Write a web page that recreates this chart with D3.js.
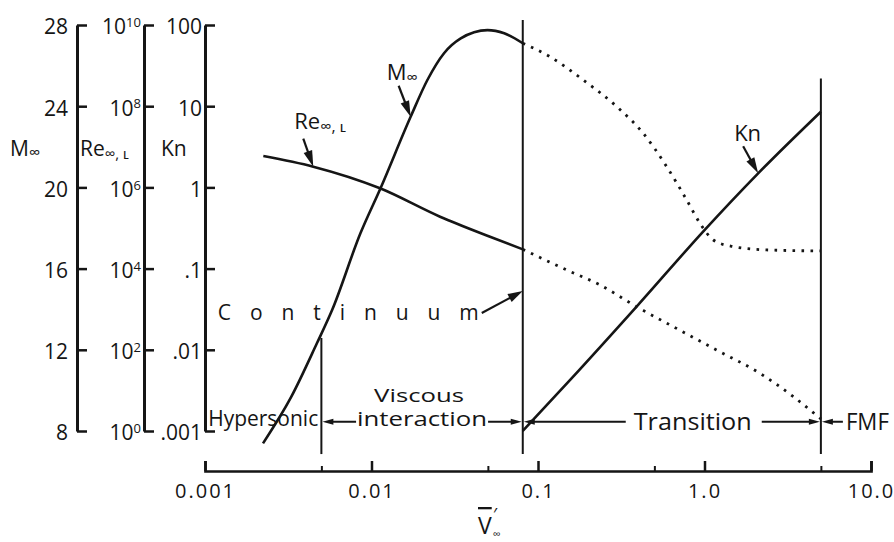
<!DOCTYPE html>
<html><head><meta charset="utf-8">
<script src="https://cdn.jsdelivr.net/npm/d3@7"></script>
<style>
body{margin:0;background:#fff;}
svg{display:block;font-family:"Open Sans",Lato,sans-serif;}
</style></head><body>
<svg id="chart" width="894" height="542"></svg>
<script>
// ---------- axis tick data ----------
const xTickValues = [0.001, 0.01, 0.1, 1, 10];
const xTickLabels = ["0.001", "0.01", "0.1", "1.0", "10.0"];
const xMinorTicks = [0.005, 0.05, 0.5, 5];
const mTicks = [8, 12, 16, 20, 24, 28];
const reTicks = [1, 1e2, 1e4, 1e6, 1e8, 1e10];
const reExponents = ["0", "2", "4", "6", "8", "10"];
const knTicks = [0.001, 0.01, 0.1, 1, 10, 100];
const knTickLabels = [".001", ".01", ".1", "1", "10", "100"];

// ---------- series ----------
// M_inf, continuum part (solid)
const machV = [0.00223, 0.0033, 0.0047, 0.0058, 0.00858, 0.01133, 0.01718, 0.02166, 0.02726, 0.03436, 0.04977, 0.06266, 0.081];
const machM = [7.39, 9.69, 12.32, 13.96, 17.74, 19.96, 23.48, 25.29, 26.61, 27.34, 27.75, 27.59, 27.10];
// M_inf, beyond continuum (dotted)
const machDotV = [0.081, 0.118, 0.187, 0.297, 0.429, 0.593, 0.782, 0.94, 1.13, 1.49, 2.36, 5];
const machDotM = [27.10, 26.44, 25.29, 23.98, 22.66, 21.02, 19.38, 18.23, 17.41, 17.08, 16.92, 16.87];
// Re_inf,L (solid)
const reV = [0.00224, 0.00447, 0.01125, 0.0258, 0.0515, 0.081];
const reVal = [5.93e6, 3.24e6, 9.5e5, 1.9e5, 6.1e4, 2.99e4];
// Re_inf,L (dotted)
const reDotV = [0.081, 0.149, 0.236, 0.391, 0.65, 1.18, 2.15, 3.42, 5];
const reDotVal = [2.99e4, 9.2e3, 3.94e3, 1.15e3, 371, 98.9, 26.4, 7.0, 1.98];
// Knudsen number
const knV = [0.081, 0.156, 0.391, 1.0, 2.10, 5];
const knVal = [0.001, 0.00425, 0.034, 0.298, 1.49, 8.55];

// regime boundaries (V value, top of line in Kn units)
const boundV = [0.005, 0.081, 5];
const boundTopKn = [0.014, 115, 22];
const boundBottomKn = 0.00052;
const regimeKn = 0.0013;

// ---------- scales ----------
const svg = d3.select("#chart");
const ink = "#151515";
const FONT = "'Open Sans', Lato, sans-serif";
const x = d3.scaleLog().domain([0.001, 10]).range([205, 871]);
const yM = d3.scaleLinear().domain([8, 28]).range([431, 25]);
const yRe = d3.scaleLog().domain([1, 1e10]).range([431, 25]);
const yKn = d3.scaleLog().domain([0.001, 100]).range([431, 25]);

function styleAxis(g, fs) {
  g.select(".domain").attr("stroke", ink).attr("stroke-width", 3);
  g.selectAll(".tick line").attr("stroke", ink).attr("stroke-width", 2.5);
  g.selectAll(".tick text").attr("fill", ink).attr("font-size", fs).attr("font-family", FONT);
}

// ---------- left axes ----------
const gM = svg.append("g").attr("transform", "translate(77,0)")
  .call(d3.axisLeft(yM).tickValues(mTicks).tickSizeInner(-10).tickSizeOuter(0).tickPadding(9).tickFormat(d3.format("d")));
styleAxis(gM, 21);
gM.selectAll(".tick text").attr("dy", "0.42em");

const gRe = svg.append("g").attr("transform", "translate(144,0)")
  .call(d3.axisLeft(yRe).tickValues(reTicks).tickSizeInner(-10).tickSizeOuter(0).tickPadding(3).tickFormat(() => ""));
styleAxis(gRe, 21);
gRe.selectAll(".tick text").attr("dy", "0.42em").each(function(d, i) {
  const t = d3.select(this);
  t.text("10");
  t.append("tspan").attr("dy", "-0.55em").attr("font-size", "0.62em").text(reExponents[i]);
});

const gKn = svg.append("g").attr("transform", "translate(205,0)")
  .call(d3.axisLeft(yKn).tickValues(knTicks).tickSizeInner(-10).tickSizeOuter(0).tickPadding(3).tickFormat((d, i) => knTickLabels[i]));
styleAxis(gKn, 21);
gKn.selectAll(".tick text").attr("dy", "0.42em");

// left axis titles
const tM = svg.append("text").attr("x", 10).attr("y", 156).attr("font-size", 21).attr("fill", ink).text("M");
tM.append("tspan").attr("font-size", 16).attr("dy", 2).text("∞");
const tRe = svg.append("text").attr("x", 80).attr("y", 156).attr("font-size", 21).attr("fill", ink).text("Re");
tRe.append("tspan").attr("font-size", 15).attr("dy", 3).text("∞, ʟ");
svg.append("text").attr("x", 161).attr("y", 156).attr("font-size", 21).attr("fill", ink).text("Kn");

// ---------- bottom axis ----------
const gX = svg.append("g").attr("transform", "translate(0,471)")
  .call(d3.axisBottom(x).tickValues(xTickValues).tickSizeInner(-10).tickSizeOuter(-10).tickPadding(13).tickFormat((d, i) => xTickLabels[i]));
styleAxis(gX, 20);
gX.selectAll(".tick text").attr("letter-spacing", 2);
gX.select(".domain").attr("stroke-width", 2.7);
const gXm = svg.append("g").attr("transform", "translate(0,471)")
  .call(d3.axisBottom(x).tickValues(xMinorTicks).tickSizeInner(-5).tickSizeOuter(0).tickFormat(""));
gXm.select(".domain").remove();
gXm.selectAll(".tick line").attr("stroke", ink).attr("stroke-width", 2);

// x title  V-bar prime, sub infinity
svg.append("text").attr("x", 478).attr("y", 534).attr("font-size", 23).attr("fill", ink)
  .style("text-decoration", "overline").text("V");
svg.append("text").attr("x", 493).attr("y", 521).attr("font-size", 18).attr("fill", ink).text("′");
svg.append("text").attr("x", 493).attr("y", 538).attr("font-size", 11).attr("fill", ink).text("∞");

// ---------- boundaries ----------
svg.append("g").selectAll("line").data(boundV).join("line")
  .attr("x1", d => x(d)).attr("x2", d => x(d))
  .attr("y1", (d, i) => yKn(boundTopKn[i])).attr("y2", yKn(boundBottomKn))
  .attr("stroke", ink).attr("stroke-width", 2);

// ---------- curves ----------
const lineGen = (xs, ys, ysc) => d3.line().curve(d3.curveMonotoneX)
  .x((d, i) => x(xs[i])).y((d, i) => ysc(ys[i]))(xs);

function drawCurve(xs, ys, ysc, dotted) {
  svg.append("path").attr("d", lineGen(xs, ys, ysc)).attr("fill", "none")
    .attr("stroke", ink).attr("stroke-width", dotted ? 2.8 : 2.6)
    .attr("stroke-dasharray", dotted ? "2.6 6.4" : null);
}
drawCurve(machV, machM, yM, false);
drawCurve(machDotV, machDotM, yM, true);
drawCurve(reV, reVal, yRe, false);
drawCurve(reDotV, reDotVal, yRe, true);
drawCurve(knV, knVal, yKn, false);

// ---------- arrows ----------
function arrow(x1, y1, x2, y2, len, w, sw) {
  const dx = x2 - x1, dy = y2 - y1, L = Math.hypot(dx, dy), ux = dx / L, uy = dy / L;
  const bx = x2 - ux * len, by = y2 - uy * len;
  svg.append("line").attr("x1", x1).attr("y1", y1).attr("x2", bx + ux).attr("y2", by + uy)
    .attr("stroke", ink).attr("stroke-width", sw);
  svg.append("path").attr("d", `M${x2},${y2}L${bx - uy * w / 2},${by + ux * w / 2}L${bx + uy * w / 2},${by - ux * w / 2}Z`)
    .attr("fill", ink);
}

// curve labels
function curveLabel(tip, main, sub, ldx, ldy, adx, ady) {
  const t = svg.append("text").attr("x", tip[0] + ldx).attr("y", tip[1] + ldy).attr("font-size", 22).attr("fill", ink).text(main);
  if (sub) t.append("tspan").attr("font-size", 16).attr("dy", 3).text(sub);
  arrow(tip[0] + adx, tip[1] + ady, tip[0], tip[1], 16, 9, 2.2);
}
const mTip = [x(machV[6]), yM(machM[6])];
curveLabel(mTip, "M", "∞", -24, -37, -12, -31);
const reTip = [x(reV[1]), yRe(reVal[1])];
curveLabel(reTip, "Re", "∞, ʟ", -19, -38, -10, -28);
const knTip = [x(knV[4]), yKn(knVal[4])];
curveLabel(knTip, "Kn", null, -24, -32, -15, -27);

// Continuum
const cTip = [x(boundV[1]), yKn(0.053)];
svg.append("text").attr("x", cTip[0] - 305).attr("y", cTip[1] + 29).attr("font-size", 21).attr("fill", ink)
  .attr("textLength", 261).attr("lengthAdjust", "spacing").text("Continuum");
arrow(cTip[0] - 41, cTip[1] + 22, cTip[0], cTip[1], 15, 9, 2.2);

// regime labels
const yR = yKn(regimeKn);
function regText(txt, cx, baseline, fs, len, anchor) {
  return svg.append("text").attr("x", cx).attr("y", baseline).attr("font-size", fs).attr("fill", ink)
    .attr("text-anchor", anchor || "middle").attr("textLength", len).attr("lengthAdjust", "spacingAndGlyphs").text(txt);
}
regText("Hypersonic", x(Math.sqrt(0.001 * boundV[0])), yR + 4, 22, 110);
const visCx = x(Math.sqrt(boundV[0] * boundV[1]));
// two-line label "Viscous / interaction"
const visText = svg.append("text").attr("font-size", 20).attr("fill", ink).attr("text-anchor", "middle");
visText.append("tspan").attr("x", visCx - 3).attr("y", yR - 20).attr("font-size", 19)
  .attr("textLength", 90).attr("lengthAdjust", "spacingAndGlyphs").text("Viscous");
visText.append("tspan").attr("x", visCx).attr("y", yR + 4)
  .attr("textLength", 130).attr("lengthAdjust", "spacingAndGlyphs").text("interaction");
const trans = regText("Transition", x(0.85), yR + 8, 24, 118);
const fmf = regText("FMF", x(boundV[2]) + 25, yR + 8, 23, 43, "start");

const interW = 130, interL = visCx - interW / 2;
arrow(interL - 1, yR, x(boundV[0]) + 1, yR, 11, 6, 2);
arrow(interL + interW + 1, yR, x(boundV[1]) - 1, yR, 11, 6, 2);
const tb = trans.node().getBBox();
arrow(tb.x - 8, yR, x(boundV[1]) + 1, yR, 11, 6, 2);
arrow(tb.x + tb.width + 10, yR, x(boundV[2]) - 1, yR, 11, 6, 2);
const fb = fmf.node().getBBox();
arrow(fb.x - 3, yR, x(boundV[2]) + 1, yR, 11, 6, 2);
</script>
</body></html>
